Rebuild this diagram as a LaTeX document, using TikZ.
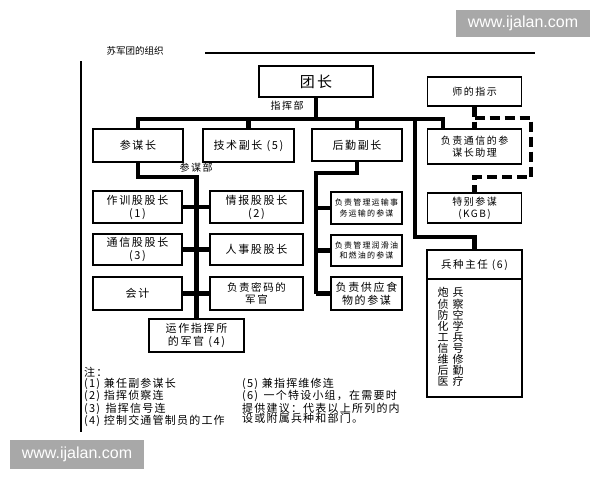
\documentclass[tikz,border=0pt]{standalone}
\usepackage{fontspec}
\setmainfont{Noto Sans CJK SC}
\newfontfamily\ls[LetterSpace=15]{Noto Sans CJK SC}
\newfontfamily\lsn[LetterSpace=11]{Noto Sans CJK SC}
\newfontfamily\lsw[LetterSpace=36]{Noto Sans CJK SC}
\newfontfamily\wmfont{Liberation Sans}
\definecolor{wmgray}{RGB}{168,168,168}
\begin{document}
\begin{tikzpicture}[x=1pt,y=-1pt,
  box/.style={draw, line width=1.2pt, inner sep=0pt, align=center, font=\ls\fontsize{11}{13}\selectfont},
  conn/.style={line width=4.5pt, line join=miter},
  dconn/.style={line width=4.5pt, dash pattern=on 10pt off 5pt},
  lbl/.style={font=\ls\fontsize{10}{12}\selectfont, inner sep=0pt},
  note/.style={font=\lsn\fontsize{11}{10.3}\selectfont, inner sep=0pt, align=left, anchor=north west},
  wm/.style={fill=wmgray, text=white, font=\wmfont\fontsize{16}{18}\selectfont, inner sep=0pt},
]
\useasboundingbox[fill=white] (0,0) rectangle (600,480);
% watermarks
\node[wm, minimum width=134pt, minimum height=27pt] (wm1) at (523,23.5) {www.ijalan.com};
\node[wm, minimum width=134pt, minimum height=29pt] (wm2) at (77,454.5) {www.ijalan.com};
% title and frame lines
\node[font=\fontsize{9.5}{11}\selectfont, inner sep=0pt] (title) at (135,51) {苏军团的组织};
\coordinate (tl1) at (205,53);
\coordinate (tl2) at (535,53);
\draw[line width=1.8pt] (tl1) -- (tl2);
\coordinate (fl1) at (81,61);
\coordinate (fl2) at (81,432);
\draw[line width=1.1pt] (fl1) -- (fl2);
% top level
\node[box, minimum width=114pt, minimum height=31pt, font=\ls\fontsize{15}{17}\selectfont] (tz) at (316,81.5) {团长};
\node[box, minimum width=94pt, minimum height=29pt, font=\ls\fontsize{10}{12}\selectfont] (shi) at (474.5,91.5) {师的指示};
% second row
\node[box, minimum width=90pt, minimum height=33pt] (cmz) at (138,145.5) {参谋长};
\node[box, minimum width=91pt, minimum height=33pt] (js) at (248.5,145.5) {技术副长 (5)};
\node[box, minimum width=90pt, minimum height=32pt] (hq) at (357,145) {后勤副长};
\node[box, minimum width=94pt, minimum height=35pt, font=\ls\fontsize{10}{12}\selectfont] (zl) at (474.5,146.5) {负责通信的参\\谋长助理};
\node[box, minimum width=94pt, minimum height=30pt, font=\ls\fontsize{10}{12}\selectfont] (tb) at (474.5,208) {特别参谋\\(KGB)};
% branch chief
\node[draw, line width=1.2pt, minimum width=95pt, minimum height=147pt, inner sep=0pt] (bz) at (474.5,323.5) {};
\node[lbl, font=\ls\fontsize{10.5}{12}\selectfont] (bzh) at (474.5,265) {兵种主任 (6)};
\coordinate (bzd) at (474.5,279);
\draw[line width=1.2pt] (bzd -| bz.west) -- (bzd -| bz.east);
\node[inner sep=0pt, anchor=north west, align=left, font=\lsw\fontsize{11}{11.1}\selectfont] (bzl) at (437.5,287.5) {炮兵\\侦察\\防空\\化学\\工兵\\信号\\维修\\后勤\\医疗};
% staff boxes
\node[box, minimum width=89pt, minimum height=32pt] (zx) at (137.5,207) {作训股股长\\(1)};
\node[box, minimum width=93pt, minimum height=32pt] (qb) at (256.5,207) {情报股股长\\(2)};
\node[box, minimum width=89pt, minimum height=31pt] (tx) at (137.5,249.5) {通信股股长\\(3)};
\node[box, minimum width=93pt, minimum height=31pt] (rs) at (256.5,249.5) {人事股股长};
\node[box, minimum width=89pt, minimum height=33pt] (kj) at (137.5,293.5) {会计};
\node[box, minimum width=93pt, minimum height=33pt, font=\ls\fontsize{10.5}{12.5}\selectfont] (mm) at (256.5,293.5) {负责密码的\\军官};
\node[box, minimum width=95pt, minimum height=33pt] (yz) at (196.5,335.5) {运作指挥所\\的军官 (4)};
% logistics boxes
\node[box, minimum width=71pt, minimum height=32pt, font=\ls\fontsize{8}{10.5}\selectfont] (ys) at (366.5,208) {负责管理运输事\\务运输的参谋};
\node[box, minimum width=71pt, minimum height=31pt, font=\ls\fontsize{8}{10.5}\selectfont] (rh) at (366.5,250.5) {负责管理润滑油\\和燃油的参谋};
\node[box, minimum width=71pt, minimum height=33pt, font=\ls\fontsize{11}{13}\selectfont] (sw) at (366.5,293.5) {负责供应食\\物的参谋};
% labels
\node[lbl] (zhb) at (287,106) {指挥部};
\node[lbl] (cmb) at (196,168) {参谋部};
% connectors
\coordinate (busL) at (138,119);
\coordinate (busR) at (443,119);
\draw[conn] (cmz.north) |- (busR) -- (busR |- zl.north);
\draw[conn] (tz.south) -- (tz.south |- busL);
\draw[conn] (js.north) -- (js.north |- busL);
\draw[conn] (hq.north) -- (hq.north |- busL);
\coordinate (bzbend) at (415,237);
\draw[conn] (bzbend |- busL) -- (bzbend) -| (bz.north);
\coordinate (sp) at (196.5,177);
\draw[conn] (cmz.south) |- (sp) -- (sp |- yz.north);
\draw[conn] (zx.east) -- (qb.west);
\draw[conn] (tx.east) -- (rs.west);
\draw[conn] (kj.east) -- (mm.west);
\coordinate (lg) at (316,173);
\draw[conn] (hq.south) |- (lg) -- (lg |- sw.west);
\draw[conn] (lg |- ys.west) -- (ys.west);
\draw[conn] (lg |- rh.west) -- (rh.west);
\draw[conn] (lg |- sw.west) -- (sw.west);
\coordinate (d1) at (531,118);
\coordinate (d2) at (531,177);
\draw[dconn] (shi.south) -- (zl.north);
\draw[dconn] (shi.south |- d1) -- (d1) -- (d2) -- (d2 -| tb.north) -- (tb.north);
% notes
\node[note] (n1) at (84,367.5) {注：\\(1) 兼任副参谋长\\(2) 指挥侦察连\\(3)\enspace 指挥信号连\\(4) 控制交通管制员的工作};
\node[note] (n2) at (242,377.8) {(5) 兼指挥维修连\\(6)\enspace 一个特设小组，在需要时\\提供建议：代表以上所列的内\\设或附属兵种和部门。};
\end{tikzpicture}
\end{document}
